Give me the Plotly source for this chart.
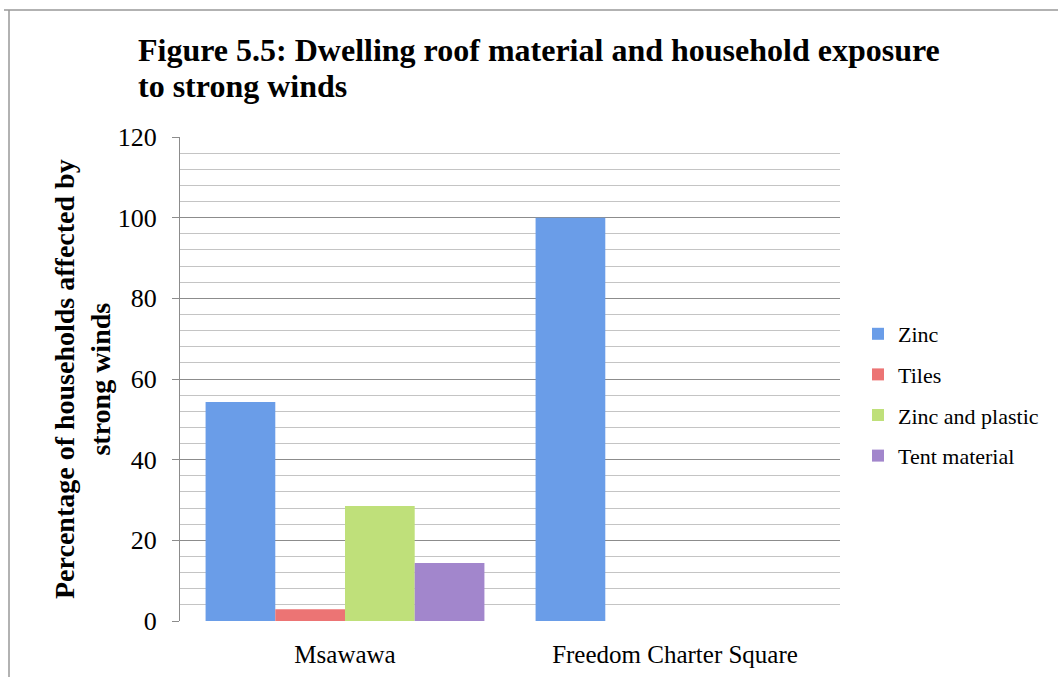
import plotly.graph_objects as go

categories = ["Msawawa", "Freedom Charter Square"]
series_names = ["Zinc", "Tiles", "Zinc and plastic", "Tent material"]
zinc = [54.3, 100]
tiles = [2.9, None]
zinc_plastic = [28.5, None]
tent_material = [14.4, None]
series_values = [zinc, tiles, zinc_plastic, tent_material]
colors = ["#6A9DE8", "#EC7474", "#BFE07A", "#A286CC"]
title_lines = ["Figure 5.5: Dwelling roof material and household exposure", "to strong winds"]

W, H = 1058, 677
L, R, T, B = 180, 218, 137, 56
pw, ph = W - L - R, H - T - B

fig = go.Figure()
for i, (name, vals) in enumerate(zip(series_names, series_values)):
    fig.add_trace(go.Bar(
        x=categories, y=vals, name=name,
        marker=dict(color=colors[i], line=dict(width=0)),
        legendgroup=name,
    ))

serif = "Liberation Serif"

title_annots = [
    dict(text="<b>%s</b>" % t, xref="paper", yref="paper",
         x=(136 - L) / pw, y=(H - B - yc) / ph,
         xanchor="left", yanchor="middle", showarrow=False,
         font=dict(family=serif, size=32, color="black"))
    for t, yc in zip(title_lines, [50, 86])
]

fig.update_layout(
    width=W, height=H,
    margin=dict(l=L, r=R, t=T, b=B, autoexpand=False),
    paper_bgcolor="white", plot_bgcolor="white",
    barmode="group", bargap=0.155, bargroupgap=0,
    legend=dict(
        x=(858 - L) / pw, xanchor="left",
        y=(H - B - 395) / ph, yanchor="middle",
        font=dict(family=serif, size=22, color="black"),
        tracegroupgap=9, traceorder="grouped",
        bgcolor="rgba(0,0,0,0)",
    ),
    xaxis=dict(
        showgrid=False, showline=False, ticks="",
        tickfont=dict(family=serif, size=25, color="black"),
        ticklabelstandoff=16, automargin=False,
    ),
    yaxis=dict(
        range=[0, 120], dtick=20, tick0=0,
        showgrid=True, gridcolor="#8c8c8c", gridwidth=1.3,
        zeroline=False, automargin=False,
        showline=True, linecolor="#8c8c8c", linewidth=1.3,
        ticks="outside", ticklen=7, tickcolor="#8c8c8c", tickwidth=1.3,
        tickfont=dict(family=serif, size=26, color="black"),
        ticklabelstandoff=10,
        minor=dict(dtick=4, showgrid=True, gridcolor="#c4c4c4", gridwidth=1.3),
    ),
    annotations=title_annots + [dict(
        text="<b>Percentage of households affected by<br>strong winds</b>",
        textangle=-90, xref="paper", yref="paper",
        x=(82 - L) / pw, y=(H - B - 379) / ph,
        xanchor="center", yanchor="middle", showarrow=False,
        font=dict(family=serif, size=28, color="black"),
    )],
    shapes=[
        dict(type="line", xref="paper", yref="paper",
             x0=(4 - L) / pw, x1=(W - L) / pw,
             y0=(H - B - 10) / ph, y1=(H - B - 10) / ph,
             line=dict(color="#999999", width=1.5)),
        dict(type="line", xref="paper", yref="paper",
             x0=(9 - L) / pw, x1=(9 - L) / pw,
             y0=(H - B - 10) / ph, y1=(H - B - H) / ph,
             line=dict(color="#999999", width=1.5)),
    ],
)

fig.write_html("out.html", config={"displayModeBar": False},
               post_script="document.body.style.margin='0px';")
